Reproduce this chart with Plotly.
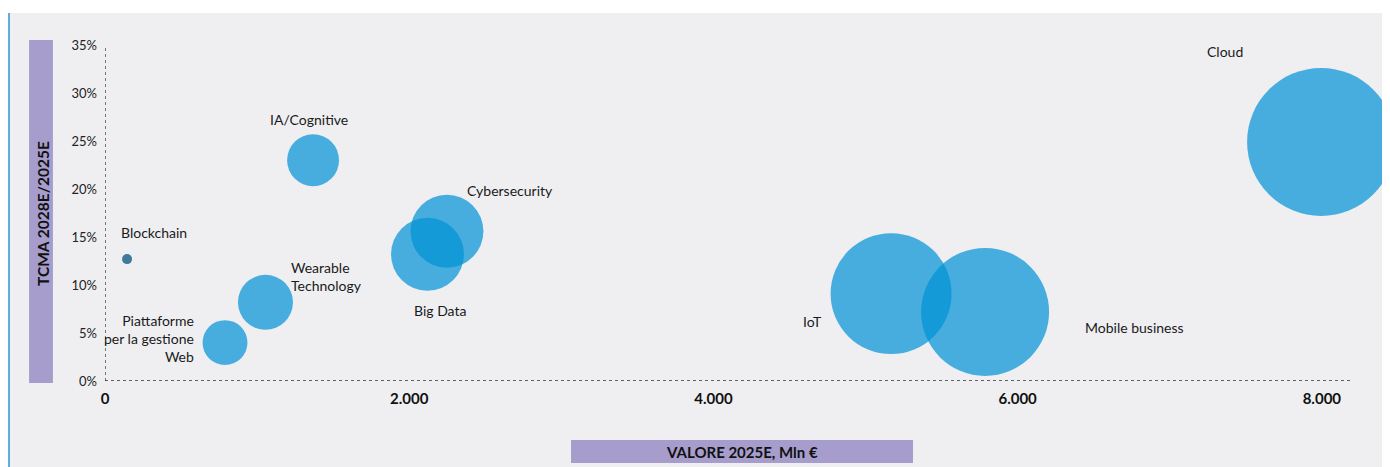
import plotly.graph_objects as go

# ---- data ----
tecnologie = ["Cloud", "IA/Cognitive", "Cybersecurity", "Blockchain",
              "Wearable<br>Technology", "Piattaforme<br>per la gestione<br>Web",
              "Big Data", "IoT", "Mobile business"]
valore_2025e = [7995, 1368, 2248, 145, 1055, 789, 2120, 5168, 5786]      # Mln €
tcma_2028_2025 = [24.9, 23.0, 15.6, 12.7, 8.2, 4.0, 13.2, 9.1, 7.2]       # %
dimensione_bolla = [100, 12.3, 24.3, 0.46, 13.8, 9.2, 24.3, 66.8, 74.8]  # relative bubble size

x_tickvals = [0, 2000, 4000, 6000, 8000]
x_ticktext = ["0", "2.000", "4.000", "6.000", "8.000"]
y_tickvals = [0, 5, 10, 15, 20, 25, 30, 35]
y_ticktext = ["0%", "5%", "10%", "15%", "20%", "25%", "30%", "35%"]

# ---- styles ----
FONT = "Lato"
BG = "#efeff2"
BUBBLE = "#0092d5"
colors = [BUBBLE] * len(tecnologie)
opac = [0.7] * len(tecnologie)
colors[3] = "#3f7a9a"
opac[3] = 1.0

# label placement (pixel offsets from bubble centre)
label_style = [
    dict(xshift=-96, yshift=90, xanchor="center", align="center"),
    dict(xshift=-4, yshift=41, xanchor="center", align="center"),
    dict(xshift=18, yshift=41, xanchor="left", align="left"),
    dict(xshift=27, yshift=27, xanchor="center", align="center"),
    dict(xshift=24, yshift=26, xanchor="left", align="left"),
    dict(xshift=-29, yshift=4, xanchor="right", align="right"),
    dict(xshift=13, yshift=-56, xanchor="center", align="center"),
    dict(xshift=-79, yshift=-28, xanchor="center", align="center"),
    dict(xshift=98, yshift=-16, xanchor="left", align="left"),
]

fig = go.Figure()
fig.add_trace(go.Scatter(
    x=valore_2025e, y=tcma_2028_2025, mode="markers",
    marker=dict(size=dimensione_bolla, sizemode="area",
                sizeref=2 * 100 / 148 ** 2, color=colors, opacity=opac,
                line=dict(width=0)),
    cliponaxis=False, hoverinfo="skip", showlegend=False,
))

annotations = []
for name, xv, yv, st in zip(tecnologie, valore_2025e, tcma_2028_2025, label_style):
    annotations.append(dict(
        x=xv, y=yv, xref="x", yref="y", text=name, showarrow=False,
        font=dict(family=FONT, size=14, color="#1a1a1a"),
        yanchor="middle", **st))

# axis titles
annotations.append(dict(
    x=-0.0498, y=0.50, xref="paper", yref="paper", text="<b>TCMA 2028E/2025E</b>",
    textangle=-90, showarrow=False, font=dict(family=FONT, size=15.5, color="#111"),
    xanchor="center", yanchor="middle"))
annotations.append(dict(
    x=0.5116, y=-0.2113, xref="paper", yref="paper", text="<b>VALORE 2025E, Mln €</b>",
    showarrow=False, font=dict(family=FONT, size=15, color="#111"),
    xanchor="center", yanchor="middle"))

shapes = [
    # white top strip and left strip
    dict(type="rect", xref="paper", yref="paper", x0=-0.2, x1=1.2, y0=1.0952, y1=1.3,
         fillcolor="white", line=dict(width=0), layer="below"),
    dict(type="rect", xref="paper", yref="paper", x0=-0.2, x1=-0.0771, y0=-0.4, y1=1.3,
         fillcolor="white", line=dict(width=0), layer="below"),
    dict(type="line", xref="paper", yref="paper", x0=-0.0771, x1=-0.0771, y0=-0.4, y1=1.0952,
         line=dict(color="#2a93d2", width=1.5), layer="below"),
    # purple title boxes
    dict(type="rect", xref="paper", yref="paper", x0=-0.0610, x1=-0.0418, y0=-0.006, y1=1.0149,
         fillcolor="#a69dcd", line=dict(width=0), layer="below"),
    dict(type="rect", xref="paper", yref="paper", x0=0.3743, x1=0.6490, y0=-0.2440, y1=-0.1756,
         fillcolor="#a69dcd", line=dict(width=0), layer="below"),
    # dashed axes
    dict(type="line", xref="x", yref="paper", x0=0, x1=0, y0=0, y1=1,
         line=dict(color="#333", width=1.3, dash="3px,3px"), layer="below"),
    dict(type="line", xref="paper", yref="y", x0=0, x1=1, y0=0, y1=0,
         line=dict(color="#333", width=1.3, dash="3px,3px"), layer="below"),
]

# page body has an 8px margin: size the figure so it ends at the window edge
fig.update_layout(
    width=1382, height=459, autosize=False,
    margin=dict(l=97, r=40, t=37, b=86),
    paper_bgcolor=BG, plot_bgcolor=BG,
    font=dict(family=FONT),
    xaxis=dict(range=[0, 8185], tickvals=x_tickvals, ticktext=x_ticktext,
               showgrid=False, zeroline=False, showline=False,
               ticks="", ticklabelstandoff=7,
               tickfont=dict(family=FONT, size=15, color="#111", weight="bold")),
    yaxis=dict(range=[0, 35], tickvals=y_tickvals, ticktext=y_ticktext,
               showgrid=False, zeroline=False, showline=False,
               ticks="", ticklabelstandoff=7,
               tickfont=dict(family=FONT, size=13, color="#222")),
    shapes=shapes, annotations=annotations,
)

fig.write_html("out.html")
